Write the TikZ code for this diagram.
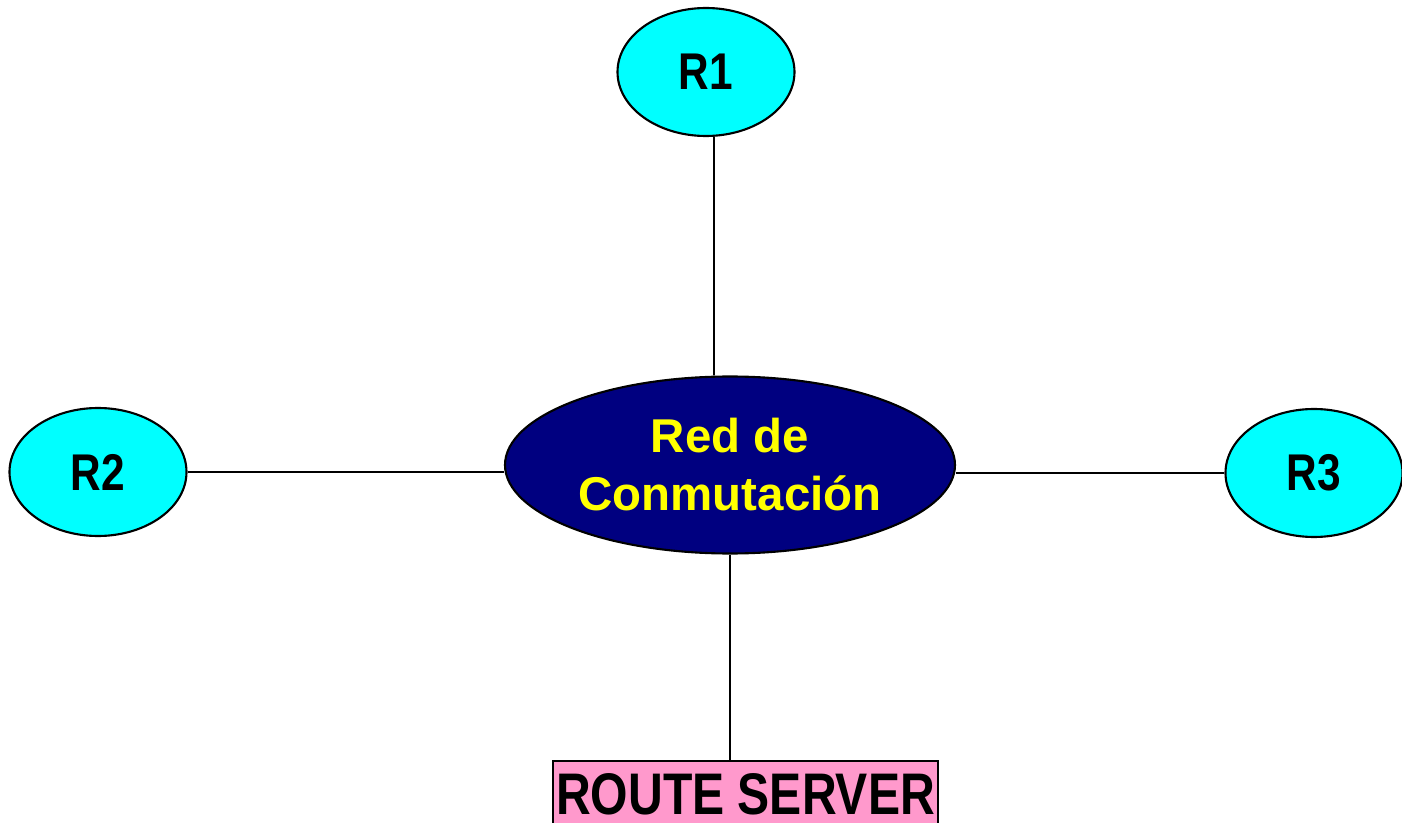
\documentclass[tikz,border=0pt]{standalone}
\usepackage{fontspec}
\setmainfont{Liberation Sans}
\newfontfamily\narrowsans[FakeStretch=0.82]{Liberation Sans}
\usetikzlibrary{shapes.geometric}
\definecolor{rcyan}{HTML}{00FFFF}
\definecolor{rnavy}{HTML}{000080}
\definecolor{ryellow}{HTML}{FFFF00}
\definecolor{rpink}{HTML}{FF99CC}
\begin{document}
\begin{tikzpicture}[scale=1,line width=0.45pt,
    router/.style={ellipse,draw,line width=0.6pt,fill=rcyan,inner sep=0pt,minimum width=1.77cm,minimum height=1.28cm,font=\narrowsans\fontsize{14.7}{17}\selectfont\bfseries},
    red/.style={ellipse,draw,line width=0.6pt,fill=rnavy,text=ryellow,inner sep=0pt,minimum width=4.5cm,minimum height=1.77cm,align=center,font=\fontsize{13.5}{16.5}\selectfont\bfseries},
    server/.style={rectangle,draw,line width=0.6pt,fill=rpink,inner sep=0pt,minimum width=3.85cm,minimum height=0.66cm,font=\narrowsans\fontsize{16.7}{20}\selectfont\bfseries}]
    \useasboundingbox (0,0) rectangle (14.02,8.22);
    \node[router](r1) at (7.06,7.50) {R1};
    \node[router](r2) at (0.98,3.50) {R2};
    \node[router](r3) at (13.14,3.49) {R3};
    \node[red](conm) at (7.30,3.57) {Red de~\\Conmutación};
    \node[server](rs) at (7.455,0.28) {ROUTE SERVER};
    \draw ([xshift=0.08cm]r1.south)--([xshift=-0.16cm]conm.north);
    \draw (r2.east)--(r2.east -| conm.west);
    \draw (conm.east |- r3.west)--(r3.west);
    \draw (conm.south)--(conm.south |- rs.north);
\end{tikzpicture}
\end{document}
